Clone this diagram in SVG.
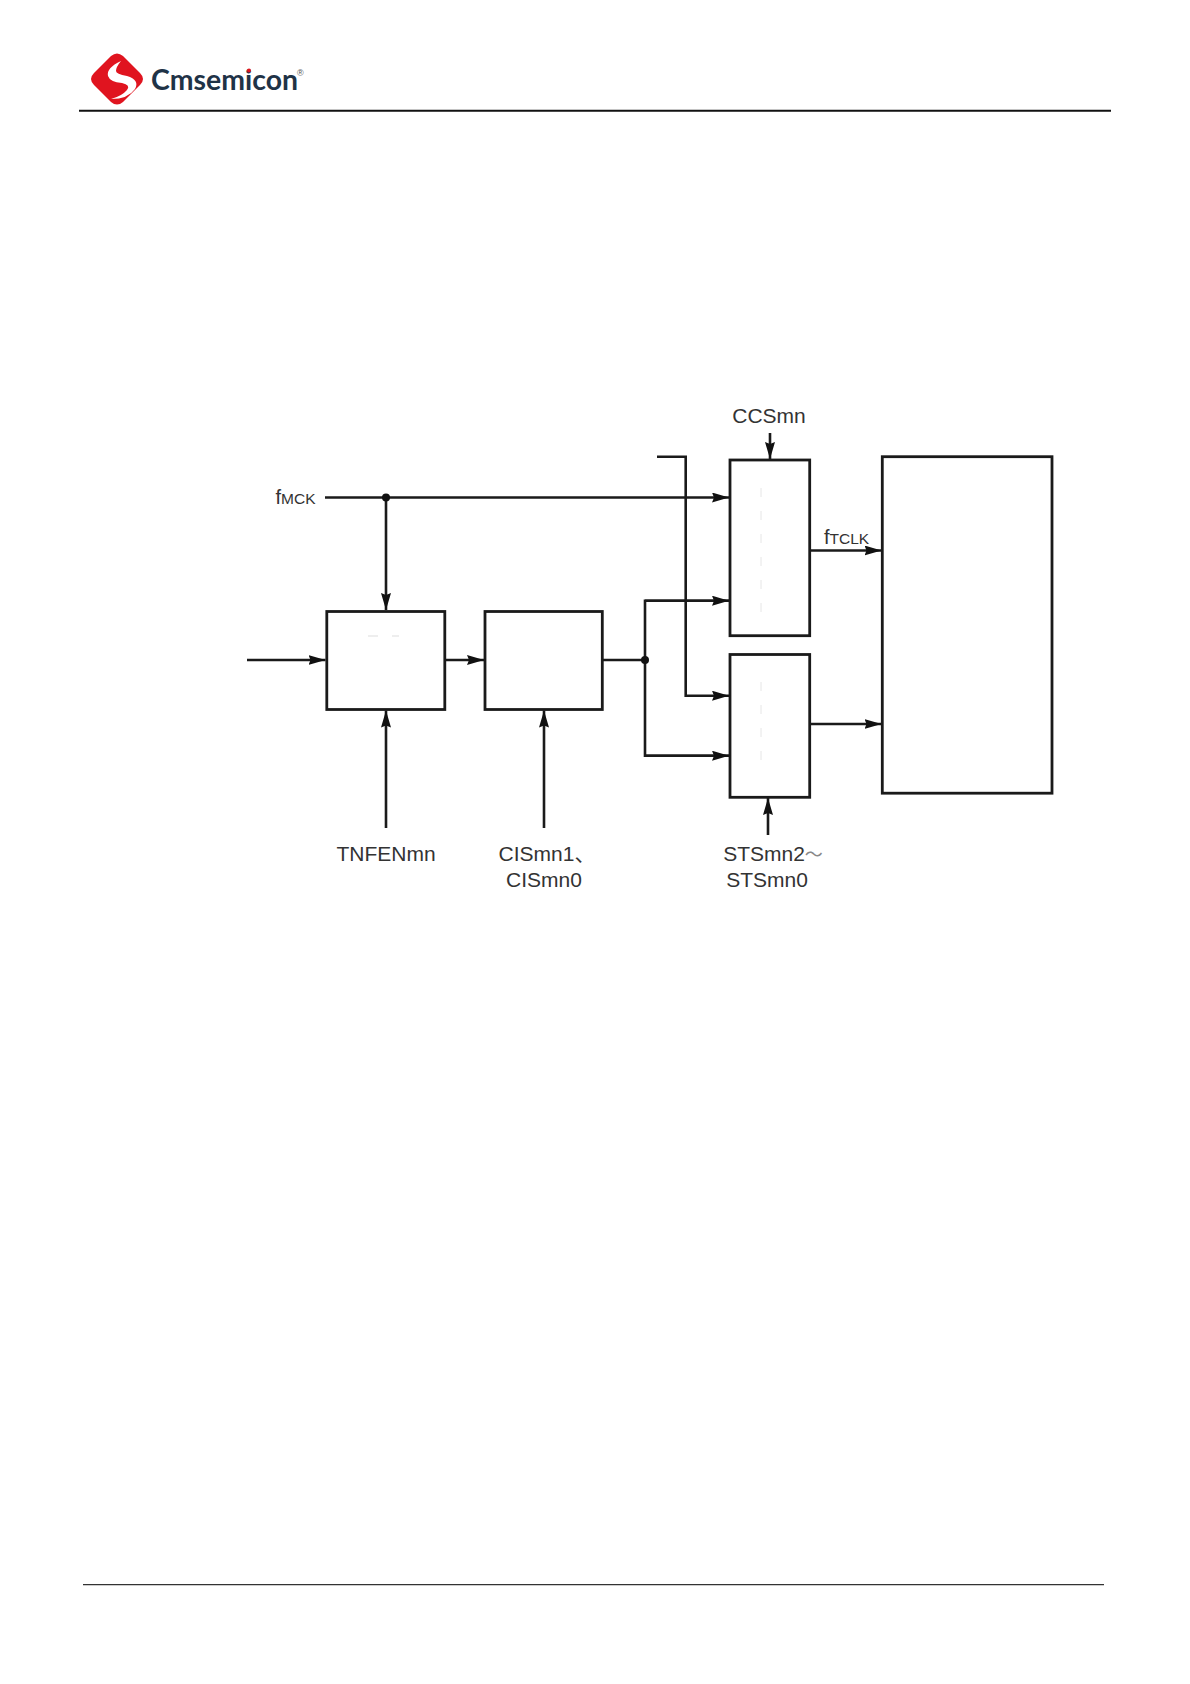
<svg xmlns="http://www.w3.org/2000/svg" width="1190" height="1684" viewBox="0 0 1190 1684">
<style>
.w{fill:none;stroke:#1a1a1a;stroke-width:2.6;stroke-linejoin:miter}
.b{fill:#fff;stroke:#1a1a1a;stroke-width:2.8}
.t{font-family:"Liberation Sans",Arial,sans-serif;font-size:21px;fill:#333;text-anchor:middle}
.s{font-size:15.5px}
.f{stroke:#e6e6e6;stroke-width:1;stroke-dasharray:9 14;fill:none}
</style>
<defs>
<marker id="a" markerUnits="userSpaceOnUse" markerWidth="18" markerHeight="12" refX="17" refY="5" orient="auto"><path d="M0 0L17 5L0 10L2 5Z" fill="#111"/></marker>
</defs>
<rect width="1190" height="1684" fill="#fff"/>
<g id="header">
<path d="M123 56Q117 51 111 56L94 73Q88 79 94 85L111 102Q117 107 123 102L140 85Q146 79 140 73Z" fill="#e0141f"/>
<path d="M121 61Q106 68 108 76Q110 82 122 83Q131 85 127 90Q122 96 111 99Q128 99 135 89Q140 80 127 76Q116 74 116 71Q116 67 121 61Z" fill="#fff"/>
<text x="151" y="89.5" font-family="Lato,'Open Sans',sans-serif" font-weight="700" font-size="28" fill="#1f3347" textLength="147" lengthAdjust="spacingAndGlyphs">Cmsemicon</text>
<circle cx="249" cy="70.5" r="2" fill="#e0141f"/>
<text x="297" y="76" font-family="'Liberation Sans',sans-serif" font-size="9" fill="#555">®</text>
<path d="M79 110.7H1111" stroke="#111" stroke-width="2" fill="none"/>
</g>
<g id="footer"><path d="M83 1584.7H1104" stroke="#333" stroke-width="1.2" fill="none"/></g>
<g id="connectors">
<path class="w" d="M325 497.5H729" marker-end="url(#a)"/>
<path class="w" d="M386 497.5V610" marker-end="url(#a)"/>
<path class="w" d="M247 660H325.5" marker-end="url(#a)"/>
<path class="w" d="M446 660H484" marker-end="url(#a)"/>
<path class="w" d="M603 660H645"/>
<path class="w" d="M729 600.7H645V755.7H729" marker-start="none"/>
<path class="w" d="M645 600.7H729" marker-end="url(#a)"/>
<path class="w" d="M645 755.7H729" marker-end="url(#a)"/>
<path class="w" d="M657 456.7H685.7V695.7H729" marker-end="url(#a)"/>
<path class="w" d="M770 433V459" marker-end="url(#a)"/>
<path class="w" d="M810 550.5H881.5" marker-end="url(#a)"/>
<path class="w" d="M810 724H881.5" marker-end="url(#a)"/>
<path class="w" d="M386 828V710.5" marker-end="url(#a)"/>
<path class="w" d="M544 828V710.5" marker-end="url(#a)"/>
<path class="w" d="M768 835V798" marker-end="url(#a)"/>
<circle cx="386" cy="497.5" r="4" fill="#111"/>
<circle cx="645" cy="660" r="4" fill="#111"/>
</g>
<g id="node-noise"><rect class="b" x="326.8" y="611.5" width="118" height="98"/><path d="M368 636H378M392 636H399" stroke="#ddd" stroke-width="1"/></g>
<g id="node-edge"><rect class="b" x="485" y="611.5" width="117.3" height="98"/></g>
<g id="node-mux1"><rect class="b" x="730" y="460" width="79.7" height="175.7"/><path class="f" d="M761 488V612"/></g>
<g id="node-mux2"><rect class="b" x="730" y="654.5" width="79.7" height="142.8"/><path class="f" d="M761 682V768"/></g>
<g id="node-counter"><rect class="b" x="882.3" y="456.7" width="169.7" height="336.5"/></g>
<g id="labels">
<text class="t" x="295.5" y="504"><tspan font-size="20">f</tspan><tspan class="s">MCK</tspan></text>
<text class="t" x="769" y="423">CCSmn</text>
<text class="t" x="846.500" y="544"><tspan font-size="20">f</tspan><tspan class="s">TCLK</tspan></text>
<text class="t" x="386" y="861">TNFENmn</text>
<text class="t" x="547" y="861">CISmn1<tspan font-family="'Noto Sans CJK SC',sans-serif">、</tspan></text>
<text class="t" x="544" y="887">CISmn0</text>
<text class="t" x="773" y="861">STSmn2<tspan font-family="'Noto Sans CJK SC',sans-serif" font-size="18" fill="#888">～</tspan></text>
<text class="t" x="767" y="887">STSmn0</text>
</g>
</svg>
